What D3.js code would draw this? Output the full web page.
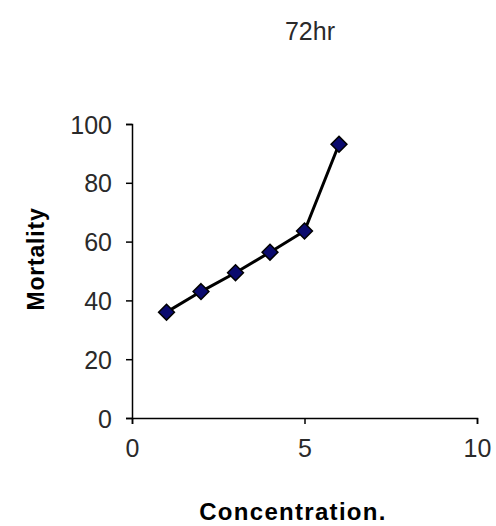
<!DOCTYPE html>
<html><head><meta charset="utf-8">
<script src="https://cdn.jsdelivr.net/npm/d3@7"></script>
<style>
html,body{margin:0;padding:0;background:#fff;}
text{font-family:"Liberation Sans",Arial,sans-serif;}
</style></head>
<body>
<svg id="c" width="496" height="526"></svg>
<script>
const concentration = [1, 2, 3, 4, 5, 6];
const mortality = [36, 43, 49.4, 56.4, 63.6, 93.1];
const xTicks = [0, 5, 10];
const yTicks = [0, 20, 40, 60, 80, 100];
const title = "72hr";
const xLabel = "Concentration.";
const yLabel = "Mortality";

const svg = d3.select("#c");
const x = d3.scaleLinear().domain([0, 10]).range([132, 477]);
const y = d3.scaleLinear().domain([0, 100]).range([418, 124]);

const xAxis = svg.append("g").attr("transform", `translate(0,${y(0)})`)
  .call(d3.axisBottom(x).tickValues(xTicks).tickSize(6).tickPadding(15).tickFormat(d3.format("d")));
const yAxis = svg.append("g").attr("transform", `translate(${x(0)},0)`)
  .call(d3.axisLeft(y).tickValues(yTicks).tickSize(6).tickPadding(14).tickFormat(d3.format("d")));
[xAxis, yAxis].forEach(a => {
  a.selectAll("path.domain").attr("stroke", "#000").attr("stroke-width", 1.5);
  a.selectAll(".tick line").attr("stroke", "#000").attr("stroke-width", 1.5);
  a.selectAll(".tick text").attr("fill", "#2a2a2a").style("font-size", "25px")
    .style("font-family", "'Liberation Sans',Arial,sans-serif");
});
yAxis.selectAll(".tick text").attr("dy", "0.36em");

const line = d3.line().x((d, i) => x(concentration[i])).y(d => y(d));
svg.append("path").datum(mortality).attr("d", line)
  .attr("fill", "none").attr("stroke", "#000").attr("stroke-width", 3);

const sym = d3.symbol().type(d3.symbolDiamond2).size(160);
svg.selectAll("path.pt").data(mortality).join("path").attr("class", "pt")
  .attr("transform", (d, i) => `translate(${x(concentration[i])},${y(d)})`)
  .attr("d", sym).attr("fill", "#0a0a6e").attr("stroke", "#000").attr("stroke-width", 1.5);

svg.append("text").attr("x", 310).attr("y", 40).attr("text-anchor", "middle")
  .style("font-size", "25px").attr("fill", "#2a2a2a").text(title);
svg.append("text").attr("x", 293).attr("y", 520).attr("text-anchor", "middle")
  .style("font-size", "24px").style("font-weight", "bold").style("letter-spacing", "1.3px").text(xLabel);
svg.append("text").attr("transform", "translate(44,259) rotate(-90)").attr("text-anchor", "middle")
  .style("font-size", "23px").style("font-weight", "bold").style("letter-spacing", "0.8px").text(yLabel);
</script>
</body></html>
